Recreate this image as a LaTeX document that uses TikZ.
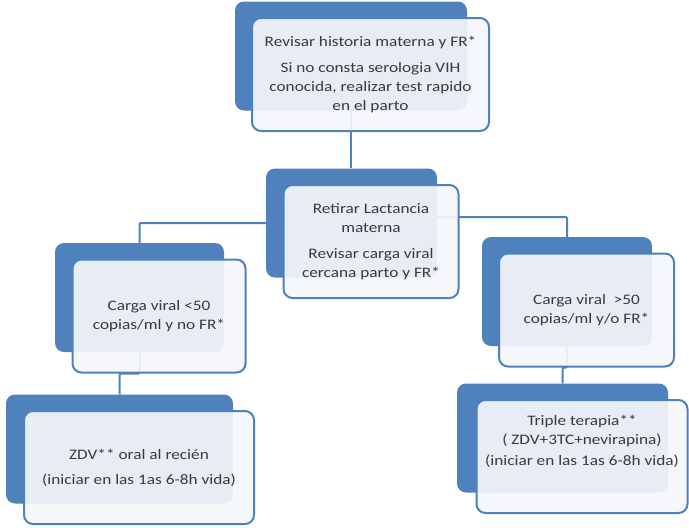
\documentclass[tikz,border=0pt]{standalone}
\usepackage{fontspec}
\setmainfont{Carlito}[FakeStretch=1.19]
\usetikzlibrary{calc,backgrounds}
\definecolor{accent}{HTML}{4F81BD}
\definecolor{paper}{HTML}{F4F6FA}
\definecolor{ink}{HTML}{3A3A3A}
\tikzset{
    back/.style={
        fill=accent,
        rounded corners=9pt,
        minimum height=109pt,
        inner sep=0pt
    },
    front/.style={
        draw=accent,
        line width=2pt,
        fill=paper,
        fill opacity=0.92,
        text opacity=1,
        rounded corners=9pt,
        minimum height=113pt,
        align=center,
        text=ink,
        inner sep=2pt,
        font=\fontsize{14.5}{19}\selectfont
    },
    link/.style={
        draw=accent,
        line width=2pt,
        rounded corners=1pt
    }
}

\begin{document}
\begin{tikzpicture}[x=1pt,y=-1pt]
\useasboundingbox (0,0) rectangle (689,528);

% back plates
\node[back, minimum width=232pt] (topb) at (351,56) {};
\node[back, minimum width=171pt] (midb) at (351.5,223) {};
\node[back, minimum width=169pt] (leftb) at (139.5,297.5) {};
\node[back, minimum width=170pt] (rightb) at (567,291.5) {};
\node[back, minimum width=227pt] (zdvb) at (119.5,449) {};
\node[back, minimum width=211pt] (tripb) at (562.5,438) {};

% text boxes
\node[front, minimum width=237pt] (topf) at ($(topb.center)+(19.5,18.5)$)
    {Revisar historia materna y FR*\\[7pt]Si no consta serologia VIH\\conocida, realizar test rapido\\en el parto};
\node[front, minimum width=175pt] (midf) at ($(midb.center)+(19.5,18.5)$)
    {Retirar Lactancia\\materna\\[7pt]Revisar carga viral\\cercana parto y FR*};
\node[front, minimum width=173pt] (leftf) at ($(leftb.center)+(19.5,18.5)$)
    {Carga viral <50\\copias/ml y no FR*};
\node[front, minimum width=175pt] (rightf) at ($(rightb.center)+(19.5,18.5)$)
    {Carga viral\ \ >50\\copias/ml y/o FR*};
\node[front, minimum width=230pt] (zdvf) at ($(zdvb.center)+(19.5,18.5)$)
    {ZDV** oral al recién\\[6pt](iniciar en las 1as 6-8h vida)};
\node[front, minimum width=211pt] (tripf) at ($(tripb.center)+(19.5,18.5)$)
    {Triple terapia**\\( ZDV+3TC+nevirapina)\\[2pt](iniciar en las 1as 6-8h vida)\\[14pt]\mbox{}};

% connectors
\begin{scope}[on background layer]
\draw[link] (topb.center) -- (topb.center |- midb.north);
\draw[link] (midb.center) -| (leftb.north);
\draw[link] ($(midb.center)+(0,-6)$) -| (rightb.north);
\draw[link] (leftb.center) -- (leftb.center |- leftf.south) -| (zdvb.north);
\draw[link] (rightb.center) -- (rightb.center |- rightf.south) -| (tripb.north);
\end{scope}

\end{tikzpicture}
\end{document}
